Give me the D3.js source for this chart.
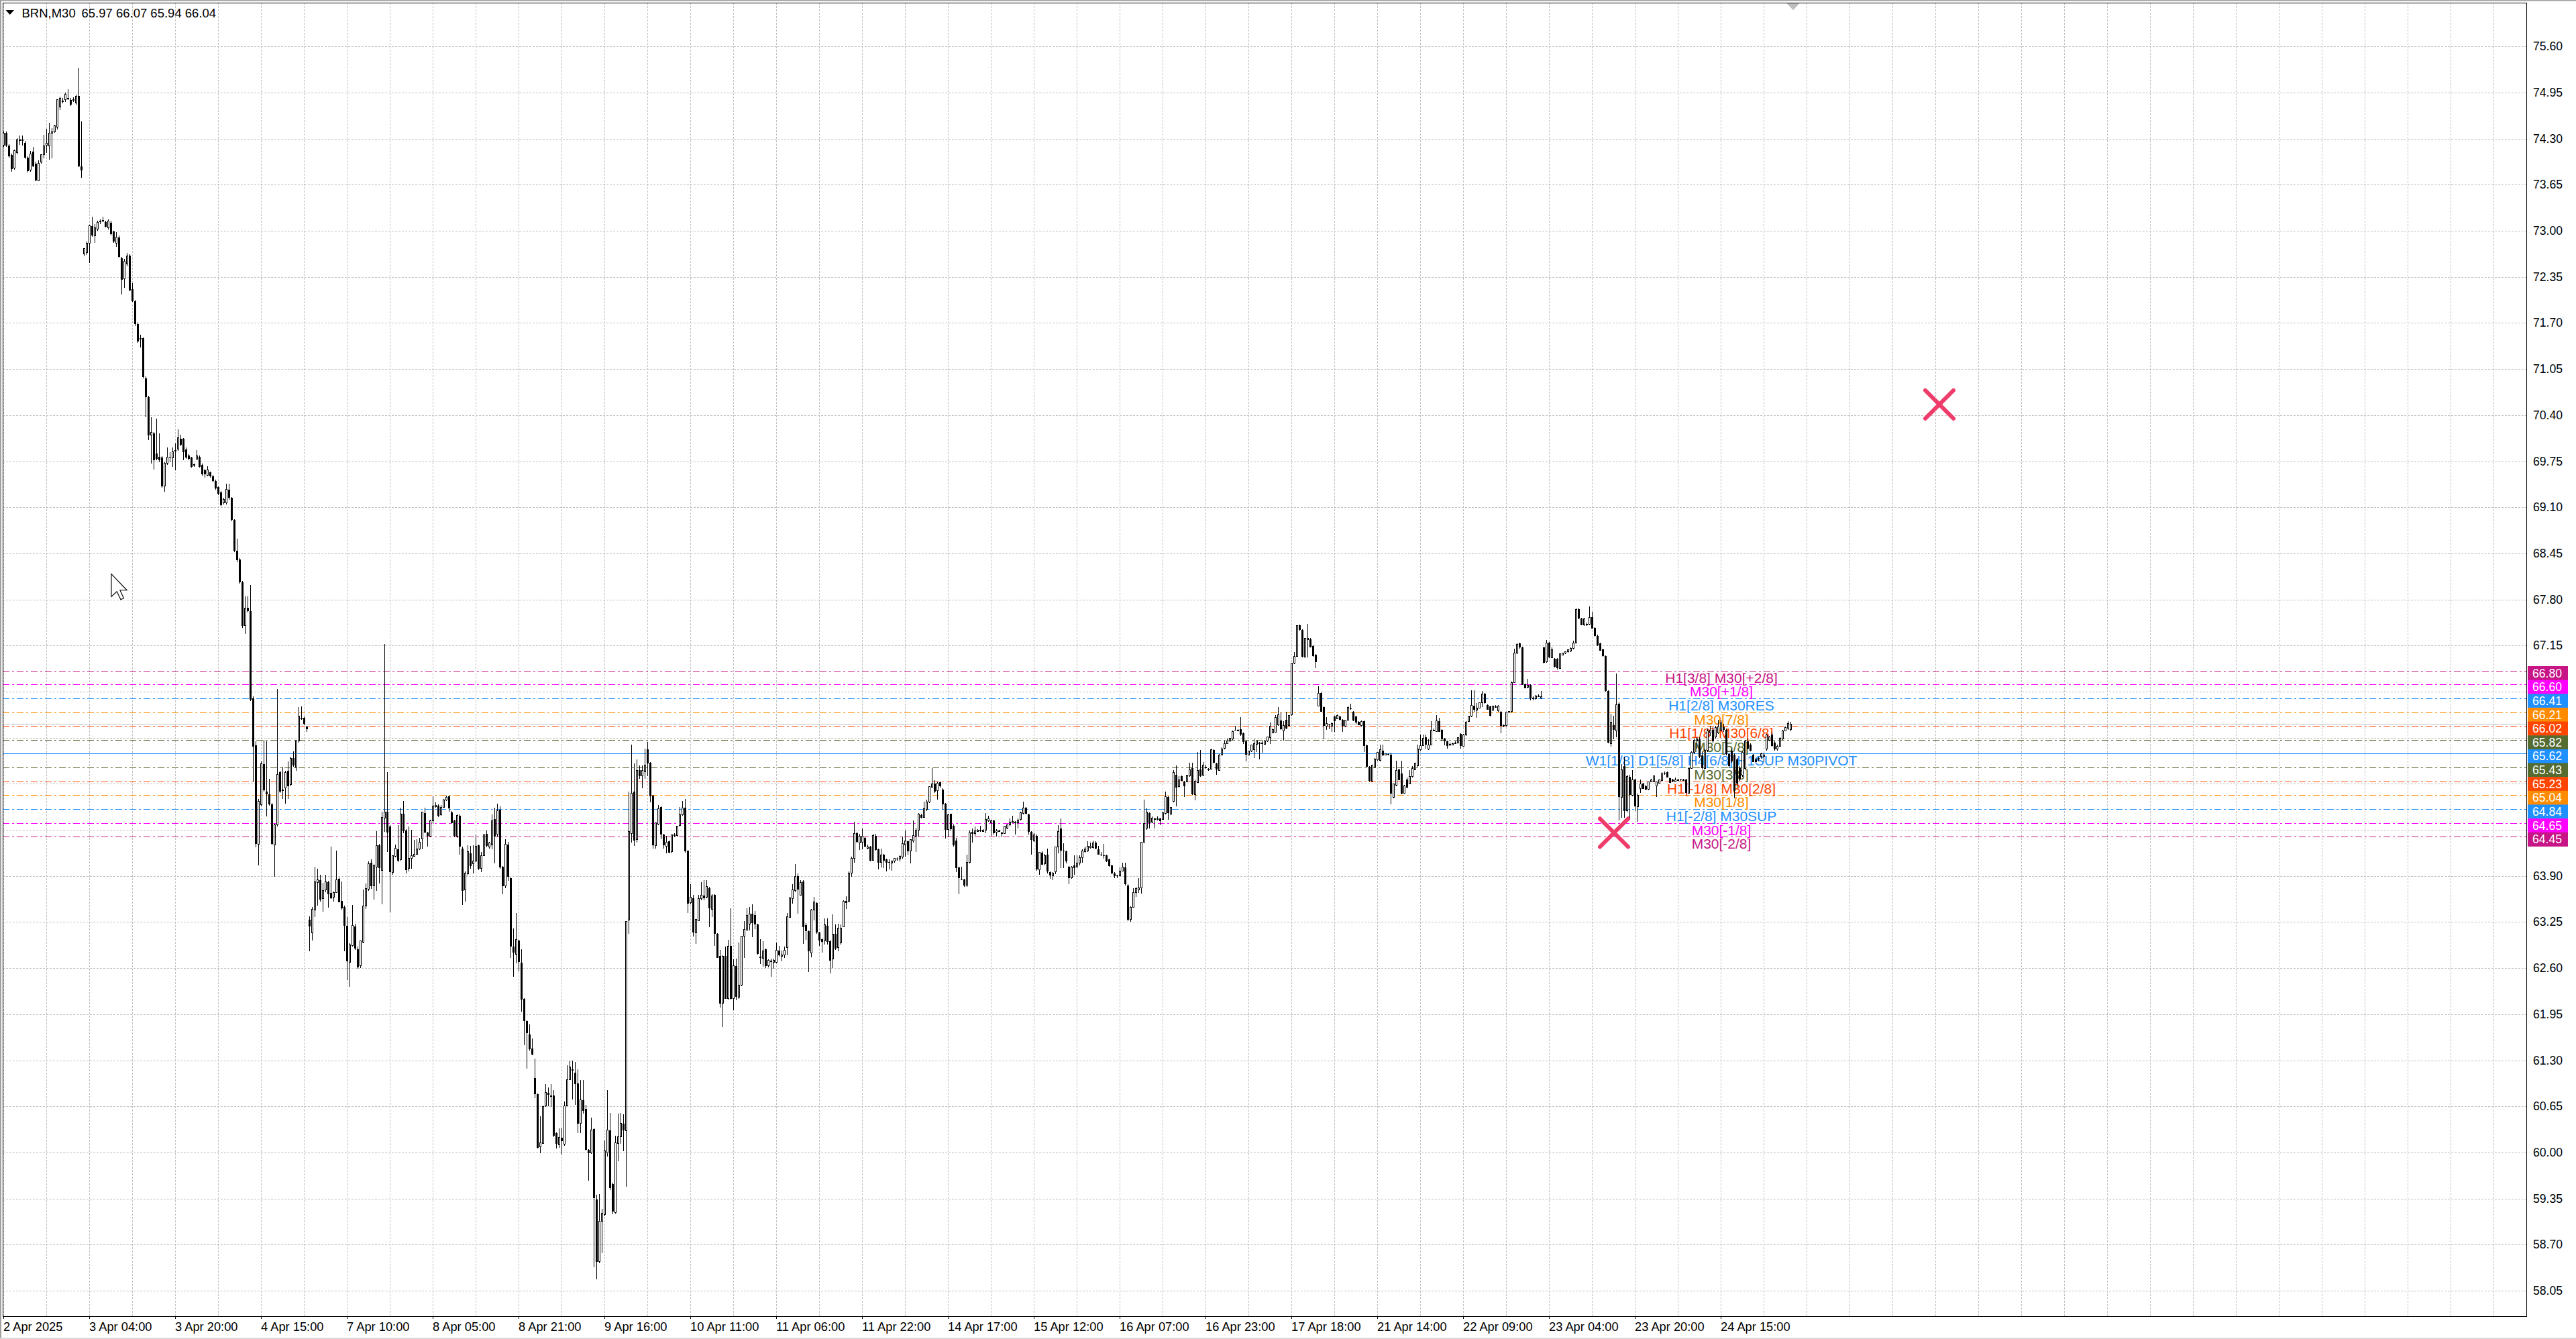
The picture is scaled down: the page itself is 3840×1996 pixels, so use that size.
<!DOCTYPE html>
<html>
<head>
<meta charset="utf-8">
<title>BRN,M30</title>
<style>
  body { margin: 0; background: #fff; }
  svg { display: block; }
  text { font-family: "Liberation Sans", Arial, sans-serif; }
</style>
</head>
<body>
<svg width="3840" height="1996"></svg>
<script src="https://d3js.org/d3.v7.min.js"></script>
<script>
// M30 bars, 2 Apr 2025 .. 24 Apr 2025 (one entry per bar)
const opens = [
74.21,74.38,74.20,74.07,73.89,74.10,74.28,74.28,74.24,74.03,
73.86,74.12,73.95,73.71,73.97,74.07,74.21,74.20,74.38,74.40,
74.46,74.75,74.83,74.85,74.87,74.85,74.85,74.80,74.90,73.91,
72.67,72.69,72.83,73.07,72.93,73.02,73.13,73.15,73.12,73.04,
73.11,72.99,72.83,72.91,72.61,72.32,72.53,72.65,72.18,72.01,
71.69,71.47,71.49,70.92,70.65,70.12,70.14,69.86,69.81,69.80,
69.40,69.72,69.81,69.80,69.89,69.92,70.07,70.07,69.92,69.83,
69.80,69.70,69.78,69.81,69.70,69.62,69.55,69.59,69.54,69.47,
69.39,69.31,69.16,69.16,69.35,69.23,68.92,68.49,68.36,68.04,
67.43,67.68,67.64,66.41,65.74,64.35,64.91,65.48,65.09,65.05,
64.91,64.34,64.62,65.36,65.10,65.14,65.38,65.19,65.56,65.44,
65.80,66.13,66.13,66.01,63.28,63.10,63.42,63.81,63.84,63.58,
63.70,63.81,63.66,63.60,63.67,63.86,63.55,63.46,63.20,62.68,
62.92,63.19,62.87,62.63,62.97,63.48,63.71,64.09,63.76,64.03,
64.33,63.98,64.72,64.81,64.60,63.95,64.18,64.28,64.13,64.78,
64.54,64.01,64.15,64.18,64.21,64.28,64.42,64.79,64.51,64.46,
64.68,64.88,64.89,64.76,64.87,64.97,65.02,64.80,64.68,64.46,
64.75,64.29,63.70,63.93,64.22,64.07,64.11,64.33,64.01,64.19,
64.49,64.31,64.34,64.70,64.49,64.83,64.03,63.76,64.34,63.87,
62.90,62.80,62.99,62.68,62.17,61.85,61.66,61.47,61.05,60.82,
60.08,60.13,60.66,60.84,60.80,60.80,60.27,60.11,60.21,60.12,
60.66,61.03,61.17,61.13,60.97,60.41,60.74,60.61,60.04,59.99,
60.33,59.34,58.46,59.03,59.12,59.99,60.31,59.55,59.15,60.13,
60.22,60.41,60.31,63.28,64.50,65.09,64.41,65.39,65.31,65.37,
65.69,65.50,65.03,64.33,64.63,64.87,64.48,64.32,64.39,64.24,
64.47,64.47,64.61,64.76,64.86,64.26,63.52,63.59,63.10,63.27,
63.58,63.62,63.60,63.73,63.43,63.63,63.08,62.77,62.10,62.77,
62.17,62.91,62.17,62.63,62.19,62.36,63.05,63.14,63.22,63.37,
63.35,63.22,62.76,62.74,62.87,62.63,62.71,62.68,62.68,62.85,
62.77,62.79,62.89,63.32,63.58,63.69,63.90,63.63,63.82,63.21,
63.12,62.81,63.42,63.52,63.10,63.01,62.98,63.20,62.98,62.73,
63.08,62.89,62.96,63.18,63.55,63.54,63.94,64.15,64.50,64.37,
64.38,64.44,64.29,64.31,64.12,64.47,64.28,64.09,64.20,64.13,
64.10,64.08,64.11,64.14,64.14,64.17,64.34,64.39,64.25,64.39,
64.46,64.55,64.76,64.73,64.84,64.94,65.15,65.20,65.10,65.22,
65.12,64.92,64.56,64.78,64.61,64.40,64.02,63.86,63.85,63.77,
64.09,64.52,64.50,64.53,64.55,64.53,64.55,64.68,64.65,64.68,
64.52,64.53,64.51,64.50,64.57,64.62,64.65,64.66,64.65,64.70,
64.78,64.86,64.77,64.52,64.39,64.47,63.99,64.23,64.07,64.20,
63.95,63.90,63.96,64.31,64.57,64.26,64.25,64.03,63.87,64.05,
64.03,64.08,64.16,64.24,64.25,64.30,64.30,64.37,64.28,64.20,
64.19,64.19,64.13,64.05,63.94,63.91,63.90,63.97,64.02,63.77,
63.29,63.46,63.67,63.70,63.73,64.38,64.57,64.79,64.66,64.71,
64.70,64.71,64.70,64.78,65.01,64.77,64.95,65.33,65.16,65.31,
65.23,65.23,65.31,65.42,65.05,65.22,65.40,65.32,65.44,65.41,
65.41,65.68,65.49,65.39,65.61,65.70,65.77,65.80,65.83,65.96,
65.96,65.97,65.91,65.80,65.61,65.66,65.68,65.76,65.78,65.78,
65.76,65.80,65.85,65.92,65.93,66.03,66.09,65.95,66.10,66.02,
66.17,66.90,67.00,67.44,67.37,66.99,67.23,67.24,67.14,67.02,
66.30,66.48,66.28,66.01,66.04,66.01,66.15,66.12,66.15,66.10,
66.01,66.10,66.26,66.22,66.15,66.07,66.02,66.08,65.74,65.44,
65.24,65.44,65.54,65.53,65.67,65.61,65.62,65.61,65.01,65.18,
65.40,65.35,65.07,65.26,65.20,65.30,65.40,65.45,65.68,65.74,
65.86,65.69,65.75,65.96,65.94,66.08,65.96,65.84,65.80,65.76,
65.75,65.77,65.78,65.90,65.73,65.89,66.08,66.15,66.30,66.24,
66.27,66.34,66.47,66.31,66.29,66.24,66.29,66.23,66.22,66.03,
66.02,66.21,66.22,66.63,67.04,67.18,67.12,66.60,66.56,66.59,
66.41,66.40,66.44,66.41,67.12,66.92,67.19,66.98,66.96,66.96,
66.83,67.02,67.04,67.06,67.07,67.11,67.19,67.66,67.53,67.44,
67.46,67.45,67.55,67.40,67.29,67.18,67.10,67.00,66.51,65.77,
66.03,65.95,66.33,65.01,65.45,64.82,65.30,65.04,65.26,64.88,
65.13,65.20,65.17,65.12,65.23,65.23,65.17,65.21,65.25,65.35,
65.36,65.28,65.26,65.23,65.25,65.26,65.25,65.26,65.07,65.42,
65.64,65.80,65.83,65.60,65.42,65.67,65.92,65.96,65.86,65.92,
65.96,66.00,65.96,65.62,65.67,65.61,65.54,65.42,65.32,65.42,
65.80,65.75,65.61,65.54,65.56,65.59,65.59,65.69,65.81,65.89,
65.78,65.69,65.73,65.83,65.95,65.98,65.97
];
const highs = [
74.40,74.40,74.22,74.09,74.15,74.31,74.34,74.34,74.27,74.05,
74.13,74.18,73.98,73.99,74.08,74.35,74.44,74.52,74.45,74.50,
74.86,74.89,74.87,74.95,75.00,74.87,74.88,74.92,75.30,74.54,
72.75,72.85,73.09,73.20,73.10,73.14,73.16,73.20,73.14,73.16,
73.14,73.00,72.98,72.93,72.63,72.60,72.69,72.67,72.26,72.03,
71.70,71.53,71.50,70.95,70.67,70.37,70.16,70.35,70.14,69.82,
69.74,69.94,69.88,69.94,70.00,70.20,70.12,70.08,69.94,69.85,
69.81,69.72,69.91,69.83,69.72,69.64,69.68,69.60,69.56,69.49,
69.40,69.33,69.23,69.43,69.43,69.24,68.93,68.66,68.38,68.06,
67.84,67.84,68.00,66.43,65.80,64.99,65.52,65.82,65.80,65.27,
64.93,64.64,66.54,65.38,65.44,65.38,65.52,65.58,65.66,65.82,
66.28,66.29,66.15,66.02,63.33,63.46,64.03,64.00,63.92,63.80,
63.92,63.83,64.31,63.68,64.26,63.88,63.82,63.48,63.32,62.95,
63.49,63.23,62.90,62.99,63.71,63.79,64.11,64.13,64.06,64.53,
64.35,64.81,67.17,65.36,64.62,64.19,64.34,64.62,64.86,64.96,
64.56,64.60,64.55,64.41,64.42,64.44,64.81,64.86,64.52,64.69,
65.02,64.94,64.91,64.90,64.99,65.03,65.03,64.82,64.69,64.77,
64.77,64.31,63.96,64.33,64.32,64.33,64.48,64.34,64.24,64.49,
64.54,64.38,64.77,64.86,64.92,64.88,64.04,64.42,64.38,63.88,
63.16,63.38,63.00,62.87,62.18,61.86,61.81,61.61,61.32,60.83,
60.51,60.66,60.96,60.92,60.96,60.88,60.28,60.34,60.34,60.72,
61.23,61.30,61.30,61.28,61.17,61.02,61.02,60.67,60.05,60.49,
60.34,59.40,59.41,59.20,60.17,60.88,60.56,59.57,60.24,60.55,
60.56,60.54,63.26,65.09,65.75,65.49,65.54,65.46,65.46,65.70,
65.79,65.51,65.04,64.65,64.90,64.88,64.49,64.47,64.40,64.48,
64.50,64.60,64.87,64.96,64.99,64.26,63.78,63.63,63.29,63.63,
63.81,63.84,63.84,63.75,63.64,63.64,63.09,62.86,62.78,62.90,
63.00,63.44,62.72,62.73,62.96,63.06,63.26,63.44,63.46,63.50,
63.41,63.23,63.01,62.98,62.88,62.72,62.73,62.73,62.96,62.91,
62.85,62.90,63.38,63.60,63.78,64.07,63.94,63.84,63.84,63.24,
63.13,63.43,63.60,63.53,63.11,63.02,63.30,63.30,62.99,63.36,
63.22,63.23,63.22,63.56,63.61,63.96,64.17,64.66,64.52,64.49,
64.57,64.45,64.34,64.32,64.49,64.49,64.29,64.29,64.21,64.14,
64.13,64.11,64.15,64.16,64.19,64.46,64.54,64.40,64.42,64.68,
64.58,64.79,64.78,64.95,64.98,65.17,65.42,65.25,65.23,65.23,
65.14,64.93,64.78,64.78,64.63,64.44,64.03,64.03,63.86,64.20,
64.54,64.57,64.60,64.56,64.61,64.56,64.79,64.75,64.69,64.69,
64.56,64.55,64.52,64.61,64.63,64.71,64.75,64.67,64.71,64.81,
64.95,64.87,64.78,64.53,64.50,64.48,64.24,64.25,64.21,64.29,
63.96,63.95,64.31,64.62,64.71,64.36,64.26,64.04,64.04,64.19,
64.19,64.19,64.28,64.31,64.39,64.37,64.40,64.39,64.32,64.24,
64.35,64.20,64.14,64.06,63.95,63.92,64.02,64.09,64.09,63.78,
63.47,63.73,63.75,63.87,64.38,64.98,64.85,64.80,64.74,64.72,
64.74,64.72,64.79,65.09,65.02,64.87,65.39,65.46,65.31,65.32,
65.24,65.33,65.50,65.50,65.26,65.65,65.68,65.51,65.47,65.42,
65.70,65.69,65.50,65.62,65.71,65.81,65.84,65.85,65.95,66.02,
65.97,66.14,65.92,65.81,65.67,65.75,65.83,65.81,65.79,65.80,
65.82,65.86,66.06,65.98,66.17,66.28,66.21,66.08,66.22,66.17,
66.90,67.06,67.44,67.45,67.38,67.25,67.46,67.26,67.15,67.03,
66.58,66.49,66.29,66.14,66.05,66.06,66.16,66.18,66.16,66.11,
66.10,66.29,66.33,66.23,66.16,66.08,66.09,66.09,65.75,65.45,
65.46,65.56,65.64,65.75,65.75,65.63,65.63,65.64,65.20,65.53,
65.41,65.53,65.18,65.29,65.39,65.45,65.50,65.75,65.89,65.89,
65.89,65.83,66.08,65.98,66.17,66.13,65.97,65.85,65.81,65.78,
65.78,65.80,65.86,65.91,65.90,66.08,66.16,66.52,66.52,66.34,
66.34,66.51,66.48,66.32,66.30,66.30,66.31,66.31,66.23,66.04,
66.22,66.23,66.64,67.11,67.18,67.19,67.13,66.61,66.68,66.60,
66.43,66.45,66.46,66.51,67.13,67.23,67.20,67.12,66.97,66.97,
67.04,67.05,67.07,67.10,67.12,67.22,67.67,67.67,67.54,67.54,
67.47,67.70,67.63,67.41,67.30,67.19,67.11,67.01,66.52,66.19,
66.16,66.76,66.35,65.48,65.58,65.33,65.33,65.39,65.27,65.06,
65.26,65.21,65.18,65.23,65.27,65.31,65.23,65.26,65.36,65.37,
65.37,65.29,65.27,65.29,65.27,65.27,65.27,65.27,65.43,65.66,
65.84,65.86,65.86,65.66,65.70,65.98,66.02,66.00,66.02,66.10,
66.10,66.05,65.98,65.63,65.70,65.63,65.56,65.45,65.66,65.82,
65.84,65.77,65.62,65.56,65.58,65.64,65.64,65.90,65.88,65.93,
65.80,65.75,65.86,65.96,66.01,66.08,66.07
];
const lows = [
74.18,74.18,74.03,73.83,73.86,74.08,74.21,74.20,74.01,73.82,
73.83,73.90,73.70,73.70,73.95,74.02,74.10,74.00,74.02,74.38,
74.43,74.70,74.80,74.82,74.85,74.76,74.82,74.78,73.90,73.75,
72.64,72.66,72.55,72.92,72.83,73.00,73.10,73.12,73.05,73.02,
72.93,72.83,72.77,72.62,72.10,72.20,72.50,72.15,72.00,71.66,
71.42,71.35,70.92,70.37,70.05,69.72,69.63,69.76,69.74,69.38,
69.32,69.70,69.74,69.67,69.62,69.90,69.96,69.76,69.78,69.76,
69.66,69.67,69.77,69.66,69.55,69.52,69.54,69.52,69.45,69.35,
69.27,69.11,69.14,69.14,69.21,68.90,68.47,68.33,68.02,67.40,
67.31,67.62,66.37,65.23,64.30,64.05,64.88,65.09,64.74,64.89,
64.33,63.89,64.60,65.07,64.99,64.92,64.99,65.17,65.44,65.38,
65.78,66.10,66.03,65.93,62.84,62.99,63.32,63.48,63.54,63.40,
63.67,63.45,63.58,63.54,63.66,63.53,63.42,62.84,62.43,62.34,
62.90,62.86,62.59,62.60,62.95,63.43,63.69,63.72,63.57,63.69,
63.79,63.50,64.52,64.24,63.39,63.92,64.16,64.10,64.12,64.50,
63.94,63.96,64.00,64.17,64.20,64.27,64.28,64.50,64.31,64.45,
64.64,64.86,64.73,64.75,64.86,64.96,64.81,64.64,64.45,64.44,
64.20,63.49,63.54,63.91,64.00,63.94,64.10,63.98,63.95,64.18,
64.30,64.29,64.28,64.08,64.46,64.00,63.64,63.73,63.83,62.74,
62.48,62.67,62.55,61.99,61.51,61.18,61.44,61.37,60.77,60.06,
59.99,60.12,60.64,60.65,60.64,60.22,60.06,60.07,59.97,60.09,
60.65,61.02,60.75,60.67,60.27,60.27,60.55,60.03,59.60,59.98,
58.38,58.21,58.44,58.58,59.10,59.94,59.47,59.13,59.14,59.88,
60.12,60.02,59.52,63.08,64.37,64.32,64.37,65.27,65.14,65.27,
65.31,64.94,64.29,64.29,64.62,64.42,64.29,64.22,64.22,64.22,
64.45,64.46,64.60,64.75,64.23,63.38,63.50,63.05,62.94,63.26,
63.56,63.56,63.59,63.18,63.32,62.91,62.74,62.04,61.77,62.17,
62.16,62.16,62.01,62.15,62.17,62.35,62.74,63.13,63.13,63.04,
63.15,62.79,62.66,62.62,62.60,62.61,62.48,62.59,62.67,62.76,
62.70,62.74,62.78,63.31,63.51,63.67,63.37,63.62,62.94,63.00,
62.54,62.75,63.27,63.08,62.91,62.82,62.93,62.93,62.53,62.60,
62.86,62.84,62.93,63.18,63.43,63.53,63.89,64.09,64.36,64.27,
64.28,64.30,64.28,64.11,64.12,64.26,63.99,64.02,64.01,63.96,
63.99,63.97,64.09,64.12,64.11,64.14,64.17,64.20,64.08,64.37,
64.24,64.46,64.71,64.72,64.82,64.93,65.15,65.07,64.98,65.15,
64.83,64.43,64.45,64.53,64.31,63.95,63.64,63.84,63.75,63.75,
64.08,64.37,64.47,64.52,64.52,64.52,64.50,64.66,64.47,64.48,
64.46,64.52,64.45,64.49,64.56,64.60,64.65,64.48,64.57,64.68,
64.77,64.77,64.48,64.20,64.38,63.97,63.92,64.06,64.05,63.94,
63.86,63.84,63.93,64.22,64.01,64.01,64.08,63.78,63.86,63.92,
64.02,64.05,64.09,64.23,64.24,64.29,64.29,64.28,64.20,64.18,
64.14,64.10,64.03,63.93,63.87,63.87,63.89,63.96,63.77,63.26,
63.25,63.45,63.60,63.66,63.65,64.37,64.55,64.57,64.65,64.57,
64.68,64.62,64.69,64.77,64.69,64.76,64.94,64.88,65.15,65.24,
65.01,65.22,65.30,65.04,64.97,65.21,65.30,65.31,65.41,65.38,
65.40,65.49,65.33,65.38,65.60,65.69,65.76,65.79,65.82,65.95,
65.94,65.88,65.76,65.52,65.60,65.65,65.56,65.65,65.54,65.64,
65.75,65.79,65.76,65.91,65.92,66.02,65.96,65.81,65.97,66.01,
66.16,66.89,66.99,67.36,66.98,66.98,66.98,67.12,66.99,66.83,
66.29,66.22,65.83,65.96,65.97,65.93,65.93,66.11,66.09,65.93,
66.00,66.09,66.24,66.08,66.05,66.03,66.01,65.65,65.43,65.23,
65.23,65.43,65.53,65.52,65.59,65.60,65.60,64.91,65.00,65.17,
65.25,65.05,65.06,65.14,65.19,65.29,65.39,65.44,65.67,65.73,
65.70,65.68,65.74,65.94,65.93,65.93,65.80,65.74,65.70,65.73,
65.74,65.76,65.77,65.70,65.72,65.88,66.07,66.14,66.22,66.13,
66.26,66.28,66.33,66.24,66.15,66.23,66.27,66.22,65.91,66.00,
66.01,66.20,66.21,66.62,67.03,67.11,66.59,66.55,66.55,66.38,
66.38,66.39,66.42,66.40,66.90,66.91,66.97,66.97,66.84,66.81,
66.82,67.01,67.03,67.05,67.06,67.10,67.18,67.52,67.44,67.43,
67.43,67.44,67.39,67.28,67.14,67.08,66.99,66.50,65.77,65.72,
65.83,65.86,64.68,64.72,64.72,64.80,64.69,65.02,64.82,64.66,
65.07,65.13,65.11,65.11,65.22,65.22,65.01,65.20,65.24,65.33,
65.29,65.21,65.22,65.22,65.24,65.24,65.24,65.06,65.06,65.41,
65.62,65.70,65.56,65.40,65.40,65.65,65.88,65.78,65.84,65.90,
65.94,65.93,65.60,65.42,65.50,65.00,65.15,65.24,65.30,65.40,
65.69,65.66,65.51,65.50,65.52,65.55,65.51,65.67,65.80,65.72,
65.67,65.67,65.72,65.82,65.94,65.96,65.94
];
const closes = [
74.38,74.20,74.05,73.87,74.13,74.28,74.28,74.28,74.03,73.84,
74.08,73.91,73.71,73.95,74.07,74.20,74.24,74.38,74.40,74.48,
74.85,74.87,74.83,74.93,74.87,74.78,74.85,74.90,73.91,73.85,
72.75,72.83,73.07,72.93,73.04,73.12,73.14,73.15,73.06,73.14,
72.95,72.85,72.91,72.63,72.31,72.57,72.65,72.16,72.01,71.69,
71.44,71.48,70.94,70.65,70.11,70.16,69.76,69.78,69.76,69.40,
69.72,69.81,69.80,69.88,69.90,70.08,69.98,69.88,69.80,69.78,
69.67,69.70,69.83,69.67,69.57,69.57,69.63,69.54,69.47,69.37,
69.29,69.13,69.21,69.35,69.23,68.92,68.49,68.35,68.04,67.43,
67.68,67.64,66.39,65.72,64.35,64.95,65.48,65.11,65.05,64.91,
64.35,64.62,65.33,65.09,65.11,65.36,65.17,65.56,65.46,65.80,
66.15,66.13,66.05,65.97,63.19,63.43,63.82,63.85,63.57,63.69,
63.82,63.64,63.59,63.67,63.85,63.53,63.44,63.20,62.70,62.93,
63.20,62.88,62.61,62.98,63.48,63.72,64.07,63.76,64.05,64.33,
64.01,64.73,64.80,64.51,63.95,64.19,64.29,64.12,64.77,64.53,
63.98,64.15,64.19,64.21,64.28,64.38,64.80,64.51,64.47,64.68,
64.89,64.90,64.75,64.87,64.97,65.01,64.85,64.65,64.47,64.75,
64.31,63.69,63.94,64.24,64.04,64.11,64.32,64.00,64.19,64.48,
64.32,64.37,64.68,64.46,64.82,64.02,63.76,64.35,63.89,62.90,
62.82,63.00,62.69,62.16,61.85,61.68,61.46,61.38,60.82,60.07,
60.14,60.65,60.85,60.81,60.80,60.24,60.12,60.21,60.16,60.66,
61.03,61.21,61.15,60.96,60.41,60.74,60.59,60.04,59.99,60.32,
59.36,58.46,59.03,59.14,60.02,60.32,59.50,59.17,60.14,60.22,
60.41,60.31,63.26,64.53,65.07,64.40,65.39,65.31,65.39,65.46,
65.49,65.02,64.33,64.65,64.85,64.48,64.33,64.38,64.23,64.48,
64.48,64.60,64.76,64.86,64.25,63.51,63.60,63.10,63.29,63.58,
63.63,63.59,63.75,63.44,63.62,63.08,62.74,62.10,62.77,62.17,
62.91,62.17,62.63,62.19,62.36,63.05,63.15,63.34,63.36,63.24,
63.22,62.80,62.74,62.84,62.63,62.71,62.69,62.71,62.85,62.78,
62.79,62.85,63.33,63.59,63.70,63.89,63.71,63.81,63.18,63.12,
62.84,63.42,63.53,63.10,62.99,62.97,63.21,62.97,62.71,63.08,
62.88,63.16,63.16,63.54,63.52,63.94,64.15,64.50,64.38,64.46,
64.46,64.31,64.31,64.12,64.47,64.27,64.09,64.20,64.12,64.09,
64.09,64.11,64.15,64.13,64.18,64.36,64.39,64.25,64.41,64.47,
64.55,64.77,64.72,64.85,64.94,65.16,65.20,65.09,65.21,65.17,
64.91,64.55,64.76,64.56,64.33,64.01,63.87,63.85,63.77,64.09,
64.51,64.49,64.54,64.55,64.53,64.55,64.70,64.71,64.68,64.50,
64.54,64.54,64.51,64.60,64.62,64.66,64.67,64.66,64.69,64.79,
64.86,64.78,64.52,64.41,64.48,63.99,64.23,64.06,64.19,63.96,
63.91,63.94,64.31,64.53,64.26,64.25,64.11,63.87,64.03,64.01,
64.08,64.16,64.25,64.28,64.32,64.32,64.37,64.29,64.20,64.19,
64.18,64.11,64.04,63.94,63.90,63.90,63.97,64.03,63.78,63.28,
63.46,63.67,63.72,63.73,64.38,64.64,64.80,64.65,64.72,64.71,
64.71,64.67,64.79,65.02,64.79,64.87,65.36,65.15,65.26,65.24,
65.17,65.32,65.40,65.05,65.24,65.39,65.31,65.46,65.42,65.39,
65.68,65.50,65.40,65.61,65.69,65.77,65.80,65.84,65.94,65.95,
65.96,65.89,65.79,65.61,65.66,65.75,65.77,65.80,65.78,65.78,
65.80,65.86,66.01,65.97,66.14,66.17,65.97,66.02,65.98,66.16,
66.90,67.00,67.43,67.37,66.99,67.25,67.25,67.12,67.00,66.92,
66.48,66.22,66.02,66.05,66.03,66.05,66.08,66.16,66.10,66.02,
66.10,66.28,66.25,66.09,66.06,66.03,66.08,65.73,65.44,65.24,
65.46,65.55,65.64,65.68,65.60,65.62,65.61,65.06,65.20,65.39,
65.25,65.06,65.17,65.15,65.30,65.42,65.49,65.69,65.74,65.84,
65.75,65.75,65.96,65.96,66.09,65.93,65.83,65.80,65.73,65.74,
65.77,65.78,65.85,65.73,65.89,66.07,66.15,66.31,66.24,66.27,
66.34,66.47,66.34,66.24,66.16,66.30,66.29,66.30,66.02,66.01,
66.21,66.22,66.63,67.04,67.17,67.12,66.59,66.55,66.59,66.41,
66.41,66.44,66.44,66.43,66.91,67.19,66.98,67.09,66.85,66.83,
67.03,67.04,67.06,67.09,67.11,67.19,67.66,67.53,67.44,67.53,
67.44,67.55,67.39,67.29,67.15,67.08,67.00,66.51,65.78,66.07,
65.96,66.32,65.01,65.40,64.82,65.30,65.04,65.26,64.88,65.04,
65.20,65.13,65.12,65.23,65.26,65.31,65.23,65.26,65.34,65.34,
65.29,65.21,65.23,65.26,65.26,65.25,65.26,65.07,65.42,65.64,
65.81,65.83,65.58,65.42,65.67,65.95,65.96,65.80,65.99,66.00,
66.06,65.96,65.62,65.45,65.52,65.10,65.20,65.26,65.64,65.80,
65.70,65.67,65.51,65.51,65.54,65.62,65.61,65.89,65.86,65.73,
65.69,65.73,65.84,65.95,65.99,66.05,66.04
];

const priceTicks = [58.05,58.70,59.35,60.00,60.65,61.30,61.95,62.60,63.25,63.90,64.55,65.20,65.85,
  66.50,67.15,67.80,68.45,69.10,69.75,70.40,71.05,71.70,72.35,73.00,73.65,74.30,74.95,75.60];

// one label every 32 bars
const timeLabels = ["2 Apr 2025","3 Apr 04:00","3 Apr 20:00","4 Apr 15:00","7 Apr 10:00","8 Apr 05:00",
  "8 Apr 21:00","9 Apr 16:00","10 Apr 11:00","11 Apr 06:00","11 Apr 22:00","14 Apr 17:00","15 Apr 12:00",
  "16 Apr 07:00","16 Apr 23:00","17 Apr 18:00","21 Apr 14:00","22 Apr 09:00","23 Apr 04:00","23 Apr 20:00",
  "24 Apr 15:00"];

// murrey levels, top to bottom
const levelPrices = [66.797,66.602,66.406,66.211,66.016,65.820,65.625,65.430,65.234,65.039,64.844,64.648,64.453];
const levelTexts = ["66.80","66.60","66.41","66.21","66.02","65.82","65.62","65.43","65.23","65.04","64.84","64.65","64.45"];
const levelNames = ["H1[3/8] M30[+2/8]","M30[+1/8]","H1[2/8] M30RES","M30[7/8]","H1[1/8] M30[6/8]","M30[5/8]",
  "W1[1/8] D1[5/8] H4[6/8] H1SUP M30PIVOT","M30[3/8]","H1[-1/8] M30[2/8]","M30[1/8]","H1[-2/8] M30SUP",
  "M30[-1/8]","M30[-2/8]"];
const levelColors = ["#C71585","#FF00FF","#1E90FF","#FF8C00","#FF4500","#556B2F","#1E90FF","#556B2F",
  "#FF4500","#FF8C00","#1E90FF","#FF00FF","#C71585"];
const levelSolid = [false,false,false,false,false,false,true,false,false,false,false,false,false];

const bidPrice = 66.04;
const symbolText = "BRN,M30";
const ohlcText = "65.97 66.07 65.94 66.04";
const crossMarks = [{bar: 600.25, price: 64.51}, {bar: 721.5, price: 70.55}];
const cursorAt = {bar: 40.25, price: 68.16};

// ---------- layout ----------
const W = 3840, H = 1996;
const plot = {left: 4, top: 4, right: 3766, bottom: 1962};
const barStep = 4, firstX = 5;
const n = Math.min(opens.length, highs.length, lows.length, closes.length);

const x = d3.scaleLinear().domain([0, n - 1]).range([firstX, firstX + barStep * (n - 1)]);
const y = d3.scaleLinear().domain([58.05, 75.60]).range([1924, 69.3]);

const svg = d3.select("svg");
svg.append("rect").attr("width", W).attr("height", H).attr("fill", "#fff");

svg.append("defs").append("clipPath").attr("id", "plotClip")
  .append("rect").attr("x", plot.left).attr("y", plot.top)
  .attr("width", plot.right - plot.left).attr("height", plot.bottom - plot.top);

const g = svg.append("g").attr("clip-path", "url(#plotClip)");

// grid
const gridBars = d3.range(0, x.invert(plot.right), 16);
g.append("g").selectAll("line").data(gridBars).join("line")
  .attr("x1", d => x(d) + 0.5).attr("x2", d => x(d) + 0.5)
  .attr("y1", plot.top).attr("y2", plot.bottom)
  .attr("stroke", "#c0c0c0").attr("stroke-dasharray", "3,2").attr("stroke-width", 1);
g.append("g").selectAll("line").data(priceTicks).join("line")
  .attr("x1", plot.left).attr("x2", plot.right)
  .attr("y1", d => Math.round(y(d)) + 0.5).attr("y2", d => Math.round(y(d)) + 0.5)
  .attr("stroke", "#c0c0c0").attr("stroke-dasharray", "3,2").attr("stroke-width", 1);

// level lines
g.append("g").selectAll("line").data(levelPrices).join("line")
  .attr("x1", plot.left).attr("x2", plot.right)
  .attr("y1", d => Math.round(y(d)) + 0.5).attr("y2", d => Math.round(y(d)) + 0.5)
  .attr("stroke", (d, i) => levelColors[i]).attr("stroke-width", 1.2)
  .attr("stroke-dasharray", (d, i) => levelSolid[i] ? null : "10,4,3,4");

// bid line
g.append("line")
  .attr("x1", plot.left).attr("x2", plot.right)
  .attr("y1", Math.round(y(bidPrice)) + 0.5).attr("y2", Math.round(y(bidPrice)) + 0.5)
  .attr("stroke", "#c0c0c0").attr("stroke-width", 1.2);

// level names
g.append("g").selectAll("text").data(levelPrices).join("text")
  .attr("x", x(640) + 1).attr("y", d => y(d) + 10.5)
  .attr("text-anchor", "middle").attr("dominant-baseline", "central")
  .attr("font-size", 21).attr("fill", (d, i) => levelColors[i])
  .text((d, i) => levelNames[i]);

// candles
const idx = d3.range(n);
const cg = g.append("g").attr("shape-rendering", "crispEdges");
cg.append("g").selectAll("line").data(idx).join("line")
  .attr("x1", i => x(i) + 0.5).attr("x2", i => x(i) + 0.5)
  .attr("y1", i => y(highs[i])).attr("y2", i => y(lows[i]))
  .attr("stroke", "#000").attr("stroke-width", 1);
cg.append("g").selectAll("rect").data(idx).join("rect")
  .attr("x", i => closes[i] >= opens[i] ? x(i) - 0.5 : x(i) - 1)
  .attr("width", i => closes[i] >= opens[i] ? 2 : 3)
  .attr("y", i => y(Math.max(opens[i], closes[i])))
  .attr("height", i => Math.max(1, y(Math.min(opens[i], closes[i])) - y(Math.max(opens[i], closes[i]))))
  .attr("fill", i => closes[i] >= opens[i] ? "#fff" : "#000")
  .attr("stroke", i => closes[i] >= opens[i] ? "#000" : "none")
  .attr("stroke-width", 1);

// cross marks
const cross = g.append("g").selectAll("g").data(crossMarks).join("g")
  .attr("transform", d => `translate(${x(d.bar)},${y(d.price)})`);
cross.append("path").attr("d", "M-21,-21L21,21M21,-21L-21,21")
  .attr("stroke", "#ee3d6b").attr("stroke-width", 6).attr("stroke-linecap", "round").attr("fill", "none");

// mouse pointer
svg.append("path")
  .attr("transform", `translate(${x(cursorAt.bar)},${y(cursorAt.price)}) scale(2.05)`)
  .attr("d", "M0,0L0,16.5L4,12.8L6.8,18.6L9,17.6L6.3,11.8L11.3,11.8Z")
  .attr("fill", "#fff").attr("stroke", "#000").attr("stroke-width", 0.55).attr("stroke-linejoin", "miter");

// header
svg.append("path").attr("d", "M8.5,15L21,15L14.75,22Z").attr("fill", "#000");
svg.append("text").attr("x", 32.5).attr("y", 19).attr("dominant-baseline", "central")
  .attr("font-size", 18.5).attr("fill", "#000").text(symbolText);
svg.append("text").attr("x", 121.5).attr("y", 19).attr("dominant-baseline", "central")
  .attr("font-size", 18.5).attr("fill", "#000").text(ohlcText);

// shift marker
svg.append("path")
  .attr("d", `M${x(n) - 9.5},5L${x(n) + 9.5},5L${x(n)},15Z`).attr("fill", "#bdbdbd");

// frame
svg.append("rect").attr("x", plot.left + 0.5).attr("y", plot.top + 0.5)
  .attr("width", plot.right - plot.left).attr("height", plot.bottom - plot.top)
  .attr("fill", "none").attr("stroke", "#000").attr("stroke-width", 1)
  .attr("shape-rendering", "crispEdges");
svg.append("rect").attr("x", 0).attr("y", 0).attr("width", 2).attr("height", H).attr("fill", "#a0a0a0");
svg.append("rect").attr("x", 0).attr("y", 0).attr("width", W).attr("height", 1.5).attr("fill", "#a0a0a0");
svg.append("rect").attr("x", 0).attr("y", H - 2).attr("width", W).attr("height", 2).attr("fill", "#d8d8d8");

// price axis
svg.append("g").selectAll("text").data(priceTicks).join("text")
  .attr("x", plot.right + 10).attr("y", d => y(d))
  .attr("dominant-baseline", "central").attr("font-size", 17.6).attr("fill", "#000")
  .text(d => d.toFixed(2));

// level price boxes
const boxes = svg.append("g").selectAll("g").data(levelPrices).join("g")
  .attr("transform", d => `translate(${plot.right + 2},${y(d) + 4})`);
boxes.append("rect").attr("x", 0).attr("y", -10.6).attr("width", 60).attr("height", 21.2)
  .attr("fill", (d, i) => levelColors[i]);
boxes.append("text").attr("x", 7).attr("y", 0).attr("dominant-baseline", "central")
  .attr("font-size", 17.6).attr("fill", "#fff").text((d, i) => levelTexts[i]);

// time axis
const tickBars = timeLabels.map((t, k) => k * 32);
svg.append("g").selectAll("line").data(tickBars).join("line")
  .attr("x1", d => x(d) + 0.5).attr("x2", d => x(d) + 0.5)
  .attr("y1", plot.bottom).attr("y2", plot.bottom + 4)
  .attr("stroke", "#000").attr("stroke-width", 1);
svg.append("g").selectAll("text").data(tickBars).join("text")
  .attr("x", d => x(d)).attr("y", plot.bottom + 15.5)
  .attr("dominant-baseline", "central").attr("font-size", 18.3).attr("fill", "#000")
  .text((d, k) => timeLabels[k]);
</script>
</body>
</html>
